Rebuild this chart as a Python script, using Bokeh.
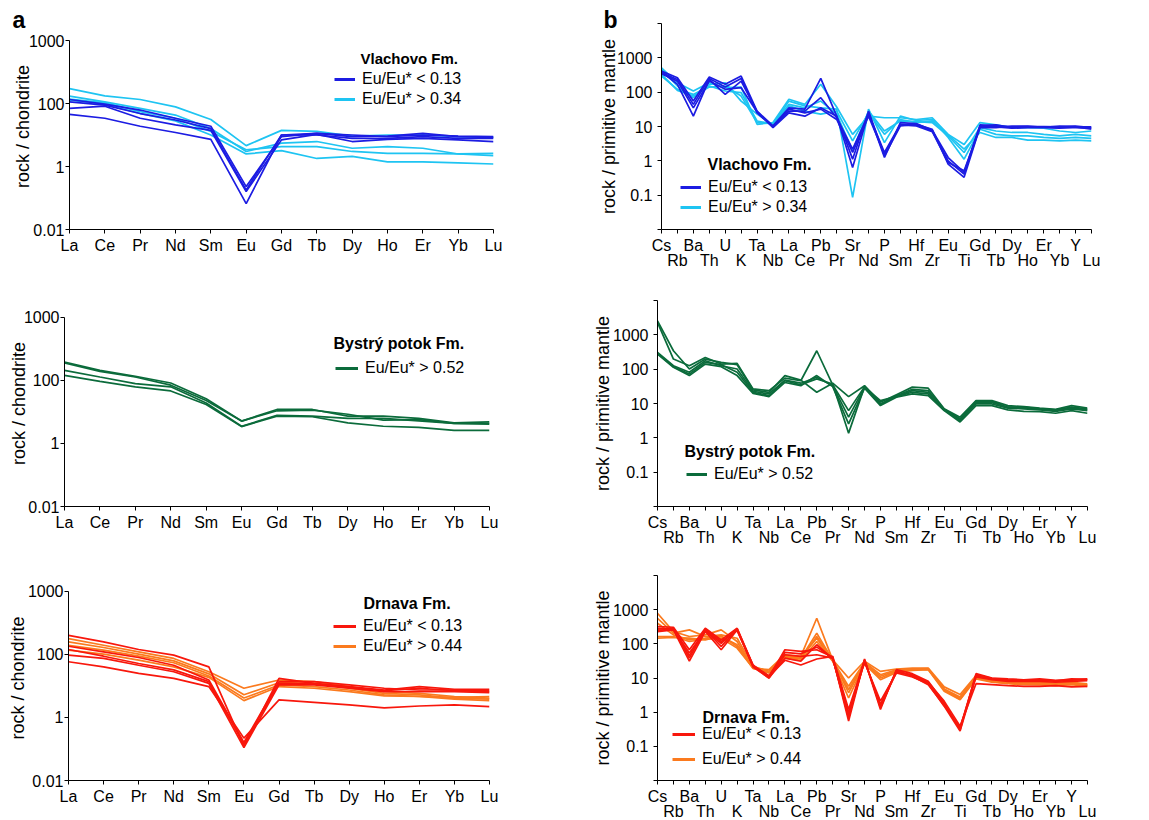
from bokeh.plotting import figure
from bokeh.layouts import column, row
from bokeh.models import Range1d, FixedTicker, LinearAxis, Legend, LegendItem, Label, Title
from bokeh.embed import file_html
from bokeh.resources import INLINE

FONT = "Liberation Sans"

# element order on the x axes
REE = ["La", "Ce", "Pr", "Nd", "Sm", "Eu", "Gd", "Tb", "Dy", "Ho", "Er", "Yb", "Lu"]
SPIDER = ["Cs", "Rb", "Ba", "Th", "U", "K", "Ta", "Nb", "La", "Ce", "Pb", "Pr", "Sr", "Nd",
          "P", "Sm", "Hf", "Zr", "Eu", "Ti", "Gd", "Tb", "Dy", "Ho", "Er", "Yb", "Y", "Lu"]

# y-axis ticks
REE_TICKS = [0.01, 1, 100, 10000]
REE_TICK_LABELS = ["0.01", "1", "100", "1000"]
PM_TICKS = [0.01, 0.1, 1, 10, 100, 1000, 10000]
PM_TICK_LABELS = ["", "0.1", "1", "10", "100", "1000", ""]

# chondrite-normalised REE patterns
vlachovo_ree_low = [
    [134, 95, 62, 34, 19, 0.23, 8.9, 11.3, 8.9, 9.3, 11.3, 8.9, 8.4],
    [113, 89, 48, 30, 16, 0.18, 10, 10, 7.8, 7.8, 8.9, 7.8, 7.8],
    [70, 82, 34, 21, 14, 0.16, 7.0, 10.5, 6.2, 7.3, 7.8, 7.0, 6.2],
    [45, 34, 19, 12, 7.3, 0.066, 10, 11.3, 10, 8.9, 10, 9.3, 8.9],
]
vlachovo_ree_high = [
    [298, 175, 134, 78, 31, 4.6, 14, 13, 9.3, 10, 10, 8.9, 8.4],
    [171, 113, 70, 43, 16, 3.0, 5.5, 6.2, 3.8, 4.3, 3.8, 2.5, 2.6],
    [137, 105, 55, 34, 13, 3.4, 4.3, 4.3, 3.0, 2.6, 2.6, 2.5, 2.2],
    [127, 95, 48, 28, 10, 2.5, 3.2, 1.8, 2.1, 1.4, 1.4, 1.3, 1.2],
]
bystry_ree = [
    [379, 207, 134, 82, 26, 5.1, 11.9, 11.9, 7.3, 7.3, 6.2, 4.5, 4.8],
    [353, 192, 127, 70, 23, 5.1, 10.8, 11.3, 8.4, 5.5, 5.7, 4.3, 4.3],
    [207, 127, 78, 62, 19, 3.5, 7.8, 7.3, 6.2, 6.2, 5.2, 4.3, 4.1],
    [144, 93, 62, 46, 17, 3.4, 7.3, 7.0, 4.5, 3.5, 3.2, 2.6, 2.6],
]
drnava_ree_low = [
    [400, 247, 142, 94, 40, 0.12, 17.3, 12.0, 9.5, 7.4, 9.5, 7.8, 7.8],
    [180, 120, 79, 45, 15.3, 0.16, 13.6, 13.6, 10.7, 8.4, 7.4, 7.4, 7.1],
    [94, 74, 45, 28, 12.0, 0.11, 10.7, 10.7, 8.4, 6.6, 6.6, 6.6, 6.1],
    [58, 40, 25, 17.3, 9.5, 0.22, 3.6, 3.0, 2.5, 2.0, 2.3, 2.5, 2.2],
    [142, 87, 51, 32, 13.6, 0.14, 12.0, 11.5, 9.0, 7.1, 8.4, 7.1, 6.6],
]
drnava_ree_high = [
    [314, 194, 120, 74, 28, 8.4, 15.3, 13.6, 9.5, 6.6, 5.8, 4.6, 4.1],
    [247, 164, 101, 62, 24, 5.2, 12.6, 12.0, 8.4, 5.8, 5.2, 4.1, 3.8],
    [194, 135, 87, 54, 20.5, 4.1, 10.7, 9.5, 7.4, 5.2, 4.6, 3.8, 3.4],
    [135, 101, 65, 40, 18.6, 3.4, 9.5, 8.4, 6.6, 4.8, 4.6, 4.3, 4.6],
]

# primitive-mantle-normalised multi-element patterns
vlachovo_pm_low = [
    [411, 263, 55, 275, 169, 294, 28, 10.4, 35, 32, 252, 20, 0.64, 25, 1.25, 13.0, 12.1, 7.8, 1.25, 0.46, 11.1, 10.4, 9.7, 9.9, 9.9, 9.7, 10.2, 9.3],
    [367, 235, 44, 252, 141, 252, 25, 9.7, 28, 28, 69, 18, 2.2, 23, 1.75, 11.6, 11.1, 7.4, 1.0, 0.41, 10.4, 11.1, 9.3, 9.7, 9.7, 9.3, 9.3, 8.9],
    [393, 169, 20, 235, 86, 210, 27, 9.3, 25, 20, 35, 20, 1.12, 28, 1.40, 10.4, 11.6, 8.3, 0.80, 0.33, 9.7, 9.7, 8.9, 9.3, 9.3, 8.9, 9.7, 8.3],
    [344, 210, 35, 210, 121, 135, 26.5, 9.7, 32, 25, 32, 16, 1.75, 20, 1.56, 11.1, 10.4, 7.1, 0.89, 0.51, 9.3, 9.3, 10.2, 10.2, 9.5, 10.2, 9.9, 9.7],
]
vlachovo_pm_high = [
    [514, 188, 108, 188, 135, 141, 11.6, 13.0, 62, 44, 169, 37, 5.9, 20, 18, 18, 16, 18, 5.9, 3.0, 13.0, 11.1, 9.3, 9.3, 8.9, 7.4, 6.7, 7.4],
    [294, 121, 86, 151, 108, 97, 14.5, 11.6, 44, 35, 55, 23, 1.95, 28, 7.4, 14.5, 13.9, 13.0, 5.3, 1.75, 9.3, 7.4, 6.7, 6.7, 5.9, 5.3, 5.9, 5.3],
    [459, 151, 69, 169, 188, 55, 23, 11.1, 55, 40, 35, 32, 0.086, 32, 3.4, 20, 15, 16, 4.8, 1.12, 8.3, 5.9, 5.3, 5.3, 4.8, 4.5, 4.8, 4.5],
    [329, 113, 77, 141, 151, 77, 13.0, 12.1, 40, 28, 23, 28, 3.8, 25, 5.9, 16, 13.0, 14.5, 5.7, 2.2, 6.7, 4.8, 4.8, 4.0, 4.0, 3.8, 4.0, 3.8],
]
bystry_pm = [
    [2557, 344, 101, 197, 158, 135, 24.8, 21.2, 65, 48, 21.2, 39, 15.9, 33, 10.9, 18.1, 30, 28, 7.0, 4.0, 12.1, 12.1, 8.7, 8.1, 7.4, 6.8, 8.7, 7.4],
    [2300, 197, 126, 220, 141, 147, 26.5, 23.7, 55, 46, 344, 35, 6.2, 31, 9.7, 16.9, 25.9, 23.7, 6.8, 3.6, 11.6, 11.4, 7.8, 7.4, 7.0, 6.5, 7.8, 7.0],
    [307, 126, 81, 176, 126, 101, 22.7, 19.0, 48, 39, 58, 33, 4.0, 30, 12.1, 15.9, 21.2, 19.0, 6.5, 3.3, 9.7, 9.7, 7.3, 7.0, 6.5, 5.9, 7.0, 6.2],
    [275, 113, 65, 141, 118, 65, 19.8, 15.9, 41, 33, 65, 31, 2.55, 28, 8.7, 15.2, 19.0, 16.9, 6.2, 2.9, 8.7, 8.7, 6.5, 5.9, 5.8, 5.2, 6.2, 5.2],
    [287, 118, 72, 158, 135, 81, 21.2, 16.9, 46, 35, 52, 37, 1.37, 31, 9.3, 15.9, 23.7, 21.2, 6.7, 3.2, 10.6, 10.6, 7.8, 7.8, 7.0, 6.2, 7.4, 6.5],
]
drnava_pm_low = [
    [320, 306, 67, 286, 131, 286, 24, 10.7, 67, 60, 67, 41, 0.55, 34, 1.2, 17.5, 13.4, 8.0, 1.9, 0.30, 13.4, 10.0, 9.4, 8.9, 9.4, 8.6, 8.9, 9.4],
    [267, 286, 38, 256, 84, 267, 22, 10.0, 48, 43, 48, 38, 0.76, 31, 1.7, 15.6, 11.7, 7.1, 1.7, 0.33, 11.7, 9.4, 8.6, 8.4, 8.9, 8.0, 8.6, 8.9],
    [229, 256, 31, 229, 67, 256, 21, 10.0, 38, 31, 94, 36, 0.96, 29, 2.1, 14.0, 10.7, 6.8, 1.5, 0.28, 10.7, 8.9, 8.0, 8.0, 8.0, 7.5, 8.0, 8.4],
    [286, 267, 54, 245, 104, 280, 23, 11.2, 33, 24, 36, 43, 1.2, 33, 1.5, 14.6, 12.5, 7.5, 2.1, 0.39, 6.8, 6.4, 6.0, 5.7, 5.7, 6.0, 5.5, 5.7],
    [245, 280, 45, 267, 117, 245, 23, 11.7, 56, 51, 80, 39, 0.68, 36, 1.34, 16.7, 11.2, 6.4, 1.56, 0.35, 12.5, 9.8, 8.9, 8.6, 8.7, 8.2, 9.4, 9.1],
]
drnava_pm_high = [
    [782, 229, 164, 183, 256, 117, 19.5, 17.5, 48, 43, 559, 34, 10.0, 31, 15.6, 18.3, 19.5, 19.5, 5.5, 3.3, 11.7, 8.9, 8.0, 7.5, 7.5, 7.1, 7.5, 6.8],
    [559, 205, 256, 164, 183, 146, 22, 15.6, 43, 38, 205, 33, 5.7, 29, 12.5, 17.5, 18.3, 18.7, 4.8, 2.8, 10.7, 8.4, 7.5, 7.1, 7.1, 6.7, 7.1, 6.4],
    [400, 183, 131, 146, 164, 94, 21, 14.6, 41, 36, 164, 34, 3.7, 27, 10.0, 15.6, 17.5, 18.3, 4.4, 2.4, 10.0, 7.8, 7.1, 6.7, 6.7, 6.4, 6.7, 6.0],
    [164, 164, 117, 137, 146, 75, 19.5, 14.0, 38, 33, 117, 31, 2.6, 26, 8.9, 14.6, 16.7, 17.5, 4.1, 2.3, 9.4, 7.5, 6.8, 6.4, 6.3, 6.0, 6.4, 5.7],
    [146, 153, 146, 131, 171, 84, 19.1, 15.3, 45, 40, 146, 32, 4.6, 28, 11.2, 16.4, 17.9, 17.9, 4.6, 2.6, 11.2, 8.2, 7.3, 7.0, 7.0, 6.5, 7.0, 6.3],
]

DARK_BLUE = "#1c1ce2"
LIGHT_BLUE = "#1ec4f2"
GREEN = "#0b6b3b"
RED = "#f8170c"
ORANGE = "#fb7a1e"


def panel(cats, series, ylabel, yticks, ylabels, border, frame, top_pad, label_standoff,
          legend_items, legend_loc, legend_spacing, glyph_w,
          title, title_pos, title_size, letter=None):
    left, right, top, bottom = border
    fw, fh = frame
    n = len(cats)
    xs = list(range(n))
    # the axis spans 0.01 .. 10000; top_pad leaves empty space above it
    decades = 6.0
    y_end = 10 ** (4 + decades * top_pad / (fh - top_pad))
    p = figure(frame_width=fw, frame_height=fh,
               min_border_left=left, min_border_right=right,
               min_border_top=top, min_border_bottom=bottom,
               x_range=Range1d(0, n - 1), y_range=Range1d(0.01, y_end),
               y_axis_type="log", output_backend="svg", toolbar_location=None)
    p.outline_line_color = None
    p.xgrid.visible = False
    p.ygrid.visible = False
    p.background_fill_color = "white"
    p.border_fill_color = "white"

    for samples, color in series:
        for vals in samples:
            p.line(xs, vals, line_color=color, line_width=1.7)

    # x axis (two staggered label rows for the long element list)
    xa = p.xaxis[0]
    two_rows = n > 13
    if two_rows:
        evens, odds = xs[0::2], xs[1::2]
        xa.ticker = FixedTicker(ticks=evens, minor_ticks=odds)
        xa.major_label_overrides = {i: cats[i] for i in evens}
    else:
        xa.ticker = FixedTicker(ticks=xs)
        xa.major_label_overrides = {i: cats[i] for i in xs}
    xa.axis_line_color = "black"
    xa.major_tick_line_color = "black"
    xa.minor_tick_line_color = "black"
    xa.major_tick_out = 4
    xa.major_tick_in = 0
    xa.minor_tick_out = 4
    xa.minor_tick_in = 0
    xa.major_label_standoff = 3
    xa.major_label_text_font = FONT
    xa.major_label_text_font_size = "16px"
    xa.major_label_text_color = "black"
    if two_rows:
        second = LinearAxis(ticker=FixedTicker(ticks=odds),
                            major_label_overrides={i: cats[i] for i in odds},
                            axis_line_color=None, major_tick_line_color=None,
                            minor_tick_line_color=None, major_tick_out=0, major_tick_in=0,
                            minor_tick_out=0, minor_tick_in=0, major_label_standoff=-5,
                            major_label_text_font=FONT, major_label_text_font_size="16px",
                            major_label_text_color="black")
        p.add_layout(second, "below")

    # y axis
    ya = p.yaxis[0]
    ya.ticker = FixedTicker(ticks=yticks)
    ya.bounds = (0.01, 10000)
    ya.major_label_overrides = dict(zip(yticks, ylabels))
    ya.axis_line_color = "black"
    ya.major_tick_line_color = "black"
    ya.minor_tick_line_color = None
    ya.major_tick_out = 4
    ya.major_tick_in = 0
    ya.major_label_standoff = 5 if two_rows else 1
    ya.major_label_text_font = FONT
    ya.major_label_text_font_size = "16px"
    ya.major_label_text_color = "black"
    ya.axis_label = ylabel
    ya.axis_label_text_font = FONT
    ya.axis_label_text_font_size = "18px"
    ya.axis_label_text_font_style = "normal"
    ya.axis_label_text_color = "black"
    ya.axis_label_standoff = label_standoff

    # legend: sample lines drawn thicker than the data
    items = []
    for color, text in legend_items:
        r = p.line([-1], [1], line_color=color, line_width=3)
        items.append(LegendItem(label=text, renderers=[r]))
    legend = Legend(items=items, location=legend_loc, orientation="vertical",
                    border_line_color=None, background_fill_alpha=0, padding=0, margin=0,
                    spacing=legend_spacing, glyph_width=glyph_w, glyph_height=20,
                    label_height=20, label_standoff=7, label_text_font=FONT,
                    label_text_font_size="16px", label_text_color="black")
    p.add_layout(legend, "center")
    p.add_layout(Label(x=title_pos[0], y=title_pos[1], x_units="screen", y_units="screen",
                       text=title, text_font=FONT, text_font_size=title_size,
                       text_font_style="bold", text_color="black",
                       text_baseline="alphabetic", text_align="left"))
    if letter is not None:
        p.title = Title(text=letter[0], align="left", offset=letter[1], standoff=-18,
                        text_font=FONT, text_font_size="23px", text_font_style="bold",
                        text_color="black")
    return p


a1 = panel(REE, [(vlachovo_ree_high, LIGHT_BLUE), (vlachovo_ree_low, DARK_BLUE)],
           "rock / chondrite", REE_TICKS, REE_TICK_LABELS,
           (69, 82, 23, 46), (424, 206), 17, -7,
           [(DARK_BLUE, "Eu/Eu* < 0.13"), (LIGHT_BLUE, "Eu/Eu* > 0.34")], (265, 120), 0, 21,
           "Vlachovo Fm.", (291, 171), "15px", ("a", -57))
b1 = panel(SPIDER, [(vlachovo_pm_high, LIGHT_BLUE), (vlachovo_pm_low, DARK_BLUE)],
           "rock / primitive mantle", PM_TICKS, PM_TICK_LABELS,
           (86, 58, 23, 46), (430, 206), 0, -5,
           [(DARK_BLUE, "Eu/Eu* < 0.13"), (LIGHT_BLUE, "Eu/Eu* > 0.34")], (19, 12), 0, 21,
           "Vlachovo Fm.", (46, 65), "16px", ("b", -58))
a2 = panel(REE, [(bystry_ree, GREEN)],
           "rock / chondrite", REE_TICKS, REE_TICK_LABELS,
           (64, 86, 25, 44), (425, 206), 16.7, -8,
           [(GREEN, "Eu/Eu* > 0.52")], (271, 128), 0, 23,
           "Bystrý potok Fm.", (269, 163), "16px")
b2 = panel(SPIDER, [(bystry_pm, GREEN)],
           "rock / primitive mantle", PM_TICKS, PM_TICK_LABELS,
           (82, 62, 25, 44), (430, 206), 0, -3,
           [(GREEN, "Eu/Eu* > 0.52")], (29, 22), 0, 21,
           "Bystrý potok Fm.", (27, 55), "16px")
a3 = panel(REE, [(drnava_ree_high, ORANGE), (drnava_ree_low, RED)],
           "rock / chondrite", REE_TICKS, REE_TICK_LABELS,
           (68, 86, 25, 40), (421, 205), 15.7, -3,
           [(RED, "Eu/Eu* < 0.13"), (ORANGE, "Eu/Eu* > 0.44")], (265, 124), 0, 23,
           "Drnava Fm.", (295, 177), "16px")
b3 = panel(SPIDER, [(drnava_pm_high, ORANGE), (drnava_pm_low, RED)],
           "rock / primitive mantle", PM_TICKS, PM_TICK_LABELS,
           (82, 62, 25, 40), (430, 205), 0, -3,
           [(RED, "Eu/Eu* < 0.13"), (ORANGE, "Eu/Eu* > 0.44")], (15, 11), 5, 23,
           "Drnava Fm.", (45, 63), "16px")

layout = column(row(a1, b1), row(a2, b2), row(a3, b3))

with open("out.html", "w") as f:
    f.write(file_html(layout, INLINE))
